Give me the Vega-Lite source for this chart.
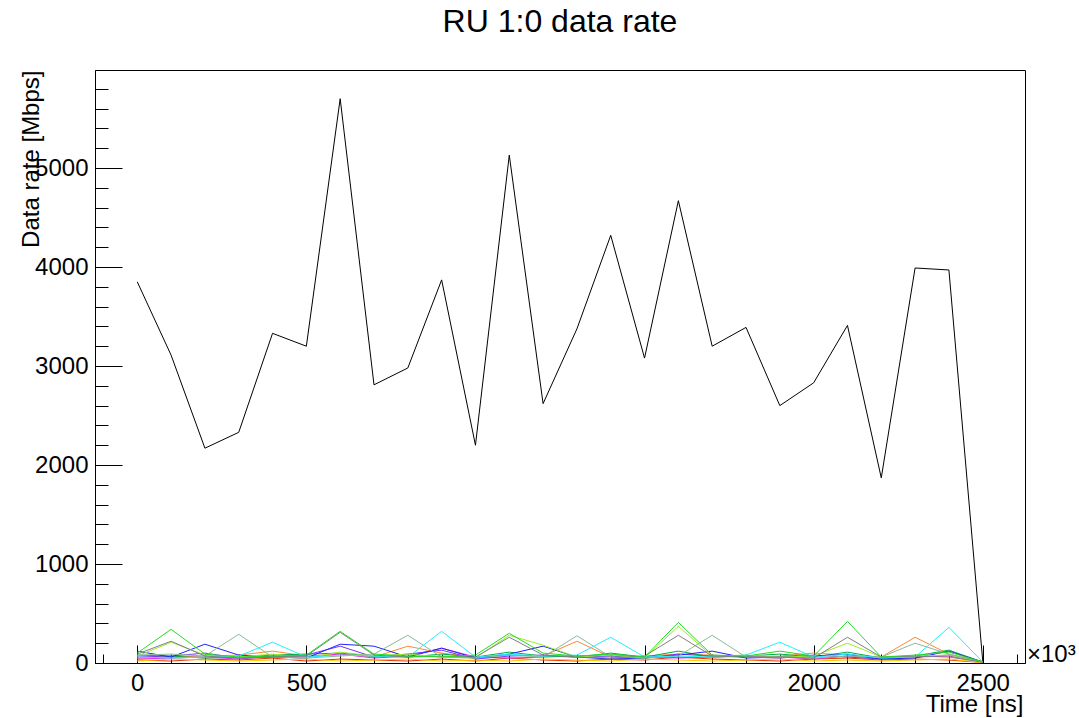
{
  "$schema": "https://vega.github.io/schema/vega-lite/v6.json",
  "width": 930,
  "height": 593,
  "autosize": {"type": "none"},
  "padding": {"left": 95, "top": 70, "right": 54, "bottom": 55},
  "background": "white",
  "config": {"view": {"stroke": "#000", "strokeWidth": 1}, "font": "Liberation Sans"},
  "title": {"text": "RU 1:0 data rate", "fontSize": 32, "font": "Liberation Sans", "fontWeight": "normal", "color": "#000", "anchor": "middle", "frame": "group", "baseline": "alphabetic", "offset": 6},
  "layer": [
    {
      "data": {"values": [
        {"t": 0, "main": 3850, "g": 100, "k": 90, "b": 120, "tg": 80, "c": 60, "o": 50, "m": 40, "yg": 70, "r": 30, "y": 20, "dg": 80, "p": 60},
        {"t": 100, "main": 3110, "g": 340, "k": 220, "b": 60, "tg": 90, "c": 50, "o": 60, "m": 50, "yg": 210, "r": 20, "y": 40, "dg": 70, "p": 70},
        {"t": 200, "main": 2170, "g": 90, "k": 70, "b": 190, "tg": 70, "c": 60, "o": 70, "m": 60, "yg": 80, "r": 40, "y": 30, "dg": 50, "p": 100},
        {"t": 300, "main": 2330, "g": 60, "k": 50, "b": 80, "tg": 290, "c": 70, "o": 80, "m": 40, "yg": 60, "r": 30, "y": 20, "dg": 60, "p": 50},
        {"t": 400, "main": 3330, "g": 70, "k": 60, "b": 60, "tg": 60, "c": 210, "o": 120, "m": 70, "yg": 90, "r": 50, "y": 30, "dg": 80, "p": 60},
        {"t": 500, "main": 3200, "g": 80, "k": 70, "b": 50, "tg": 50, "c": 60, "o": 70, "m": 60, "yg": 50, "r": 20, "y": 40, "dg": 90, "p": 80},
        {"t": 600, "main": 5700, "g": 320, "k": 310, "b": 190, "tg": 70, "c": 80, "o": 90, "m": 90, "yg": 110, "r": 40, "y": 20, "dg": 100, "p": 170},
        {"t": 700, "main": 2810, "g": 90, "k": 80, "b": 170, "tg": 90, "c": 70, "o": 60, "m": 50, "yg": 70, "r": 30, "y": 30, "dg": 70, "p": 60},
        {"t": 800, "main": 2980, "g": 70, "k": 60, "b": 60, "tg": 280, "c": 60, "o": 170, "m": 70, "yg": 90, "r": 20, "y": 40, "dg": 60, "p": 90},
        {"t": 900, "main": 3870, "g": 60, "k": 70, "b": 150, "tg": 60, "c": 320, "o": 100, "m": 150, "yg": 60, "r": 40, "y": 20, "dg": 90, "p": 130},
        {"t": 1000, "main": 2200, "g": 80, "k": 60, "b": 50, "tg": 50, "c": 60, "o": 60, "m": 60, "yg": 50, "r": 20, "y": 30, "dg": 60, "p": 40},
        {"t": 1100, "main": 5130, "g": 300, "k": 260, "b": 90, "tg": 80, "c": 90, "o": 80, "m": 50, "yg": 280, "r": 50, "y": 20, "dg": 110, "p": 70},
        {"t": 1200, "main": 2620, "g": 100, "k": 80, "b": 170, "tg": 60, "c": 70, "o": 70, "m": 60, "yg": 180, "r": 30, "y": 40, "dg": 70, "p": 80},
        {"t": 1300, "main": 3375, "g": 70, "k": 60, "b": 60, "tg": 275, "c": 80, "o": 220, "m": 70, "yg": 60, "r": 20, "y": 30, "dg": 60, "p": 60},
        {"t": 1400, "main": 4320, "g": 90, "k": 50, "b": 40, "tg": 60, "c": 260, "o": 60, "m": 80, "yg": 80, "r": 40, "y": 20, "dg": 100, "p": 70},
        {"t": 1500, "main": 3080, "g": 60, "k": 70, "b": 50, "tg": 50, "c": 60, "o": 70, "m": 60, "yg": 50, "r": 30, "y": 40, "dg": 60, "p": 50},
        {"t": 1600, "main": 4670, "g": 410, "k": 280, "b": 80, "tg": 70, "c": 70, "o": 90, "m": 50, "yg": 370, "r": 60, "y": 30, "dg": 120, "p": 90},
        {"t": 1700, "main": 3200, "g": 80, "k": 70, "b": 120, "tg": 280, "c": 60, "o": 80, "m": 60, "yg": 70, "r": 40, "y": 20, "dg": 60, "p": 70},
        {"t": 1800, "main": 3390, "g": 70, "k": 60, "b": 50, "tg": 60, "c": 80, "o": 60, "m": 70, "yg": 80, "r": 30, "y": 30, "dg": 70, "p": 60},
        {"t": 1900, "main": 2600, "g": 120, "k": 60, "b": 60, "tg": 60, "c": 210, "o": 70, "m": 60, "yg": 60, "r": 20, "y": 40, "dg": 90, "p": 50},
        {"t": 2000, "main": 2830, "g": 70, "k": 50, "b": 70, "tg": 50, "c": 60, "o": 100, "m": 40, "yg": 70, "r": 40, "y": 20, "dg": 60, "p": 80},
        {"t": 2100, "main": 3410, "g": 420, "k": 260, "b": 90, "tg": 70, "c": 90, "o": 80, "m": 70, "yg": 200, "r": 50, "y": 30, "dg": 110, "p": 60},
        {"t": 2200, "main": 1870, "g": 60, "k": 60, "b": 40, "tg": 60, "c": 50, "o": 60, "m": 50, "yg": 60, "r": 30, "y": 20, "dg": 50, "p": 40},
        {"t": 2300, "main": 3990, "g": 80, "k": 70, "b": 50, "tg": 200, "c": 60, "o": 260, "m": 60, "yg": 70, "r": 40, "y": 30, "dg": 70, "p": 60},
        {"t": 2400, "main": 3970, "g": 110, "k": 60, "b": 120, "tg": 90, "c": 360, "o": 90, "m": 70, "yg": 80, "r": 30, "y": 40, "dg": 130, "p": 80},
        {"t": 2500, "main": 20, "g": 10, "k": 10, "b": 10, "tg": 10, "c": 10, "o": 10, "m": 10, "yg": 10, "r": 5, "y": 5, "dg": 10, "p": 10}
      ]},
      "transform": [{"fold": ["r", "y", "o", "m", "p", "dg", "b", "yg", "tg", "c", "k", "g", "main"], "as": ["series", "rate"]}],
      "mark": {"type": "line", "strokeWidth": 1},
      "encoding": {
        "x": {
          "field": "t", "type": "quantitative",
          "scale": {"domain": [-125, 2625], "nice": false, "zero": false},
          "axis": {
            "values": [-100, 0, 100, 200, 300, 400, 500, 600, 700, 800, 900, 1000, 1100, 1200, 1300, 1400, 1500, 1600, 1700, 1800, 1900, 2000, 2100, 2200, 2300, 2400, 2500, 2600],
            "tickCount": 200,
            "format": "d",
            "labelExpr": "datum.value % 500 === 0 ? datum.label : ''",
            "tickSize": {"condition": {"test": "datum.value % 500 === 0", "value": -18}, "value": -9},
            "tickColor": "#000", "domainColor": "#000", "grid": false,
            "labelFontSize": 24, "labelFont": "Liberation Sans", "labelColor": "#000", "labelPadding": 26,
            "labelFlush": false, "labelOverlap": false,
            "title": "Time [ns]", "titleFontSize": 24, "titleFont": "Liberation Sans", "titleFontWeight": "normal", "titleColor": "#000",
            "titleAlign": "right", "titleAnchor": "end", "titleX": 928, "titleY": 48, "titleBaseline": "alphabetic"
          }
        },
        "y": {
          "field": "rate", "type": "quantitative",
          "scale": {"domain": [0, 5990], "nice": false},
          "axis": {
            "values": [0, 200, 400, 600, 800, 1000, 1200, 1400, 1600, 1800, 2000, 2200, 2400, 2600, 2800, 3000, 3200, 3400, 3600, 3800, 4000, 4200, 4400, 4600, 4800, 5000, 5200, 5400, 5600, 5800],
            "tickCount": 200,
            "format": "d",
            "labelExpr": "datum.value % 1000 === 0 ? datum.label : ''",
            "tickSize": {"condition": {"test": "datum.value % 1000 === 0", "value": -27}, "value": -13},
            "tickColor": "#000", "domainColor": "#000", "grid": false,
            "labelFontSize": 24, "labelFont": "Liberation Sans", "labelColor": "#000", "labelPadding": 34,
            "labelFlush": false, "labelOverlap": false,
            "title": "Data rate [Mbps]", "titleFontSize": 24, "titleFont": "Liberation Sans", "titleFontWeight": "normal", "titleColor": "#000",
            "titleAngle": -90, "titleAlign": "right", "titleBaseline": "alphabetic", "titleX": -57, "titleY": 0
          }
        },
        "color": {
          "field": "series", "type": "nominal", "legend": null,
          "scale": {
            "domain": ["r", "y", "o", "m", "p", "dg", "b", "yg", "tg", "c", "k", "g", "main"],
            "range": ["#ee3300", "#ffcc00", "#ff8833", "#ee22ee", "#7733ff", "#00aa44", "#2222ff", "#99ee22", "#88bb99", "#22eeff", "#808080", "#22dd22", "#000000"]
          }
        }
      }
    },
    {
      "data": {"values": [{}]},
      "mark": {"type": "text", "align": "left", "baseline": "alphabetic", "dx": 2, "dy": -1, "fontSize": 24, "font": "Liberation Sans", "color": "#000"},
      "encoding": {
        "x": {"datum": 2625, "type": "quantitative"},
        "y": {"datum": 0, "type": "quantitative"},
        "text": {"value": "×10³"}
      }
    }
  ]
}
